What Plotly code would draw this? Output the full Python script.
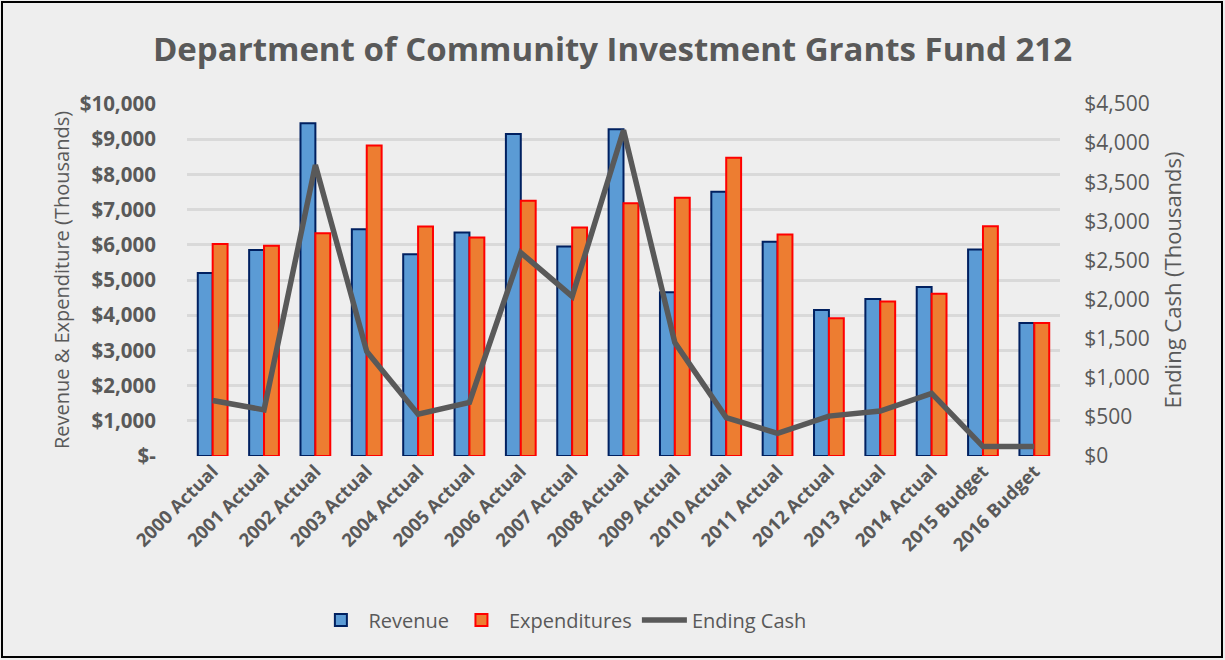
import plotly.graph_objects as go

categories = ["2000 Actual", "2001 Actual", "2002 Actual", "2003 Actual", "2004 Actual",
              "2005 Actual", "2006 Actual", "2007 Actual", "2008 Actual", "2009 Actual",
              "2010 Actual", "2011 Actual", "2012 Actual", "2013 Actual", "2014 Actual",
              "2015 Budget", "2016 Budget"]
revenue = [5200, 5850, 9450, 6440, 5730, 6350, 9150, 5950, 9280, 4650, 7510, 6090,
           4150, 4460, 4800, 5870, 3780]
expenditures = [6020, 5970, 6330, 8820, 6520, 6210, 7250, 6490, 7180, 7340, 8470, 6290,
                3910, 4390, 4610, 6530, 3780]
ending_cash = [710, 590, 3720, 1335, 535, 685, 2600, 2040, 4165, 1450, 490, 290,
               510, 575, 800, 120, 120]

left_vals = [0, 1000, 2000, 3000, 4000, 5000, 6000, 7000, 8000, 9000, 10000]
left_text = ["$-", "$1,000", "$2,000", "$3,000", "$4,000", "$5,000", "$6,000", "$7,000",
             "$8,000", "$9,000", "$10,000"]
right_vals = [0, 500, 1000, 1500, 2000, 2500, 3000, 3500, 4000, 4500]
right_text = ["$0", "$500", "$1,000", "$1,500", "$2,000", "$2,500", "$3,000", "$3,500",
              "$4,000", "$4,500"]

FONT = "Open Sans"
GRAY = "#595959"
W, H = 1225, 660
ML, MR, MT, MB = 187, 165, 104, 204
PW, PH = W - ML - MR, H - MT - MB

fig = go.Figure()
fig.add_trace(go.Bar(x=categories, y=revenue, name="Revenue",
                     marker=dict(color="#5B9BD5", line=dict(color="#002060", width=2))))
fig.add_trace(go.Bar(x=categories, y=expenditures, name="Expenditures",
                     marker=dict(color="#ED7D31", line=dict(color="#FF0000", width=2))))
fig.add_trace(go.Scatter(x=categories, y=ending_cash, name="Ending Cash", yaxis="y2",
                         mode="lines", line=dict(color=GRAY, width=5.5)))

fig.update_layout(
    width=W, height=H,
    paper_bgcolor="#EEEEEE", plot_bgcolor="#EEEEEE",
    margin=dict(l=ML, r=MR, t=MT, b=MB),
    barmode="group", bargap=0.42, bargroupgap=0,
    font=dict(family=FONT, color=GRAY),
    title=dict(text="<b>Department of Community Investment Grants Fund 212</b>",
               x=0.5, xanchor="center", y=0.925, yanchor="middle",
               font=dict(size=33, color=GRAY, family=FONT)),
    xaxis=dict(tickangle=-45, tickfont=dict(size=18.5, color=GRAY),
               tickprefix="<b>", ticksuffix="</b>",
               showgrid=False, showline=False, ticks="", zeroline=False),
    yaxis=dict(range=[0, 10000], tickvals=left_vals,
               ticktext=["<b>" + t + "</b>" for t in left_text],
               tickfont=dict(size=20.5, color=GRAY),
               gridcolor="#D9D9D9", gridwidth=3, zeroline=False, showline=False,
               ticks="outside", ticklen=26, tickcolor="rgba(0,0,0,0)",
               title=dict(text="Revenue & Expenditure (Thousands)",
                          font=dict(size=20, color=GRAY), standoff=4)),
    yaxis2=dict(range=[0, 4500], tickvals=right_vals, ticktext=right_text,
                overlaying="y", side="right", showgrid=False, zeroline=False,
                ticks="outside", ticklen=19, tickcolor="rgba(0,0,0,0)",
                tickfont=dict(size=21, color=GRAY),
                title=dict(text="Ending Cash (Thousands)",
                           font=dict(size=22, color=GRAY), standoff=16)),
    legend=dict(orientation="h", x=0.43, xanchor="center", y=-0.466, yanchor="middle",
                font=dict(size=20, color=GRAY), bgcolor="rgba(0,0,0,0)",
                traceorder="normal", itemwidth=45),
    shapes=[dict(type="rect", xref="paper", yref="paper",
                 x0=-(ML - 2) / PW, x1=1 + (MR - 3) / PW,
                 y0=-(MB - 3) / PH, y1=1 + (MT - 2) / PH,
                 line=dict(color="black", width=2),
                 fillcolor="rgba(0,0,0,0)", layer="above")],
)

fig.write_html("out.html", config={"displayModeBar": False},
               post_script="document.body.style.margin='0';")
